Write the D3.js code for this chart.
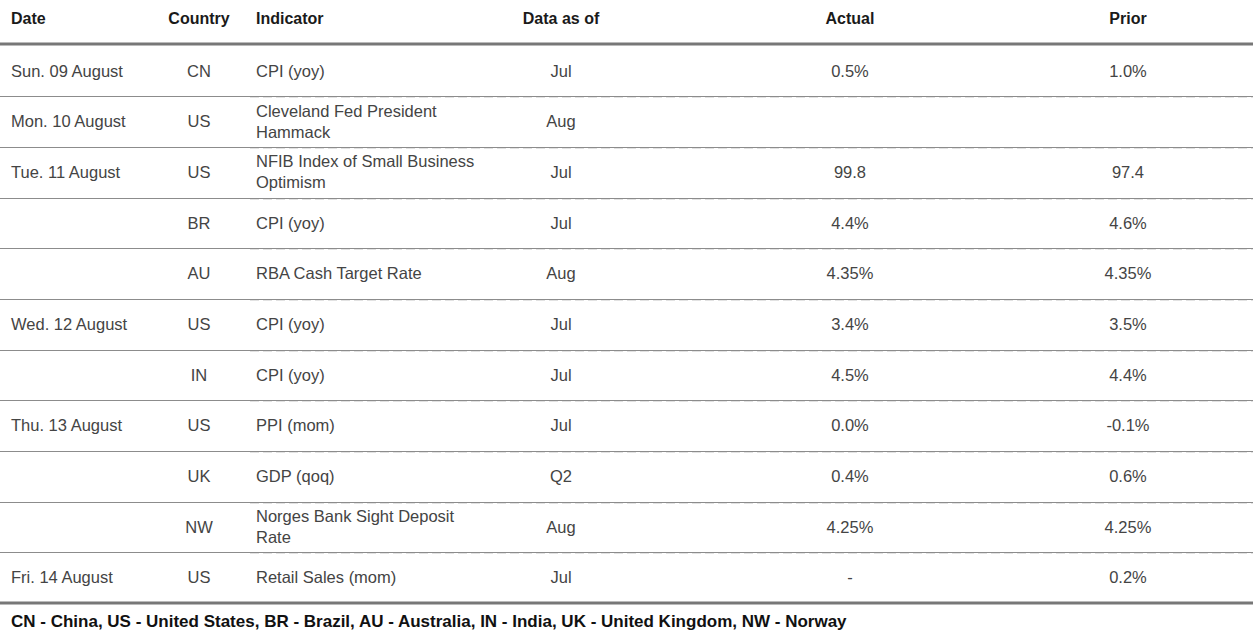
<!DOCTYPE html>
<html>
<head>
<meta charset="utf-8">
<script src="https://cdn.jsdelivr.net/npm/d3@7"></script>
<style>
  html, body { margin: 0; padding: 0; background: #fff; }
  svg { display: block; }
</style>
</head>
<body>
<svg id="chart"></svg>
<script>
const width = 1255
const height = 636

// table data
const headers = ["Date", "Country", "Indicator", "Data as of", "Actual", "Prior"]
const dates = ["Sun. 09 August", "Mon. 10 August", "Tue. 11 August", "", "", "Wed. 12 August", "", "Thu. 13 August", "", "", "Fri. 14 August"]
const countries = ["CN", "US", "US", "BR", "AU", "US", "IN", "US", "UK", "NW", "US"]
const indicators = ["CPI (yoy)", "Cleveland Fed President Hammack", "NFIB Index of Small Business Optimism", "CPI (yoy)", "RBA Cash Target Rate", "CPI (yoy)", "CPI (yoy)", "PPI (mom)", "GDP (qoq)", "Norges Bank Sight Deposit Rate", "Retail Sales (mom)"]
const dataAsOf = ["Jul", "Aug", "Jul", "Jul", "Aug", "Jul", "Jul", "Jul", "Q2", "Aug", "Jul"]
const actual = ["0.5%", "", "99.8", "4.4%", "4.35%", "3.4%", "4.5%", "0.0%", "0.4%", "4.25%", "-"]
const prior = ["1.0%", "", "97.4", "4.6%", "4.35%", "3.5%", "4.4%", "-0.1%", "0.6%", "4.25%", "0.2%"]
const footnote = "CN - China, US - United States, BR - Brazil, AU - Australia, IN - India, UK - United Kingdom, NW - Norway"

const rows = dates.map((d, i) => ({
    date: d, country: countries[i], indicator: indicators[i],
    asOf: dataAsOf[i], actual: actual[i], prior: prior[i]
}))

const font = "'Liberation Sans', Arial, sans-serif"
const bodyColor = "#444"
const fontSize = 16.5

// column layout: x position and anchor
const cols = [
    {key: "date", x: 11, anchor: "start"},
    {key: "country", x: 199, anchor: "middle"},
    {key: "indicator", x: 256, anchor: "start"},
    {key: "asOf", x: 561, anchor: "middle"},
    {key: "actual", x: 850, anchor: "middle"},
    {key: "prior", x: 1128, anchor: "middle"}
]

const svg = d3.select("#chart")
    .attr("width", width)
    .attr("height", height)
    .style("font-family", font)

// rows laid out on a band scale between the two heavy rules
const y = d3.scaleBand()
    .domain(d3.range(rows.length))
    .range([45.5, 603])

// header
svg.append("g")
    .selectAll("text")
    .data(cols)
    .join("text")
    .attr("x", d => d.x)
    .attr("y", 18)
    .attr("dy", "0.35em")
    .attr("text-anchor", d => d.anchor)
    .attr("font-size", 16)
    .attr("font-weight", 600)
    .attr("fill", "#1a1a1a")
    .text((d, i) => headers[i])

// row separators (solid rule with a faint dashed trace after the date column)
const seps = d3.range(1, rows.length).map(i => y(i))
svg.append("g")
    .selectAll("line")
    .data(seps)
    .join("line")
    .attr("x1", 0).attr("x2", 1253)
    .attr("y1", d => Math.round(d) + 0.5).attr("y2", d => Math.round(d) + 0.5)
    .attr("stroke", "#8c8c8c")
    .attr("stroke-width", 1)
svg.append("g")
    .selectAll("line")
    .data(seps)
    .join("line")
    .attr("x1", 250).attr("x2", 1253)
    .attr("y1", d => Math.round(d) + 1.5).attr("y2", d => Math.round(d) + 1.5)
    .attr("stroke", "#e2e2e2")
    .attr("stroke-dasharray", "9,4")
    .attr("stroke-width", 1)

// heavy rules
svg.append("g")
    .selectAll("line")
    .data([44, 603])
    .join("line")
    .attr("x1", 0).attr("x2", 1253)
    .attr("y1", d => d).attr("y2", d => d)
    .attr("stroke", "#777")
    .attr("stroke-width", 3)

// cells
const rowG = svg.append("g")
    .selectAll("g")
    .data(rows)
    .join("g")
    .attr("transform", (d, i) => `translate(0,${y(i) + y.bandwidth() / 2})`)

const wrapWidth = 226

cols.forEach(c => {
    rowG.append("text")
        .attr("x", c.x)
        .attr("text-anchor", c.anchor)
        .attr("font-size", fontSize)
        .attr("fill", bodyColor)
        .each(function(d) {
            const t = d3.select(this)
            const value = d[c.key]
            if (c.key !== "indicator") {
                t.attr("dy", "0.35em").text(value)
                return
            }
            // simple word wrap for long indicator names
            const words = value.split(" ")
            const lines = []
            let line = []
            const probe = t.append("tspan")
            words.forEach(w => {
                line.push(w)
                probe.text(line.join(" "))
                if (probe.node().getComputedTextLength() > wrapWidth && line.length > 1) {
                    line.pop()
                    lines.push(line.join(" "))
                    line = [w]
                }
            })
            lines.push(line.join(" "))
            probe.remove()
            const lh = 21
            lines.forEach((l, k) => {
                t.append("tspan")
                    .attr("x", c.x)
                    .attr("y", (k - (lines.length - 1) / 2) * lh)
                    .attr("dy", "0.35em")
                    .text(l)
            })
        })
})

// footnote
svg.append("text")
    .attr("x", 11)
    .attr("y", 621)
    .attr("dy", "0.35em")
    .attr("font-size", 17)
    .attr("font-weight", 700)
    .attr("fill", "#111")
    .text(footnote)
</script>
</body>
</html>
